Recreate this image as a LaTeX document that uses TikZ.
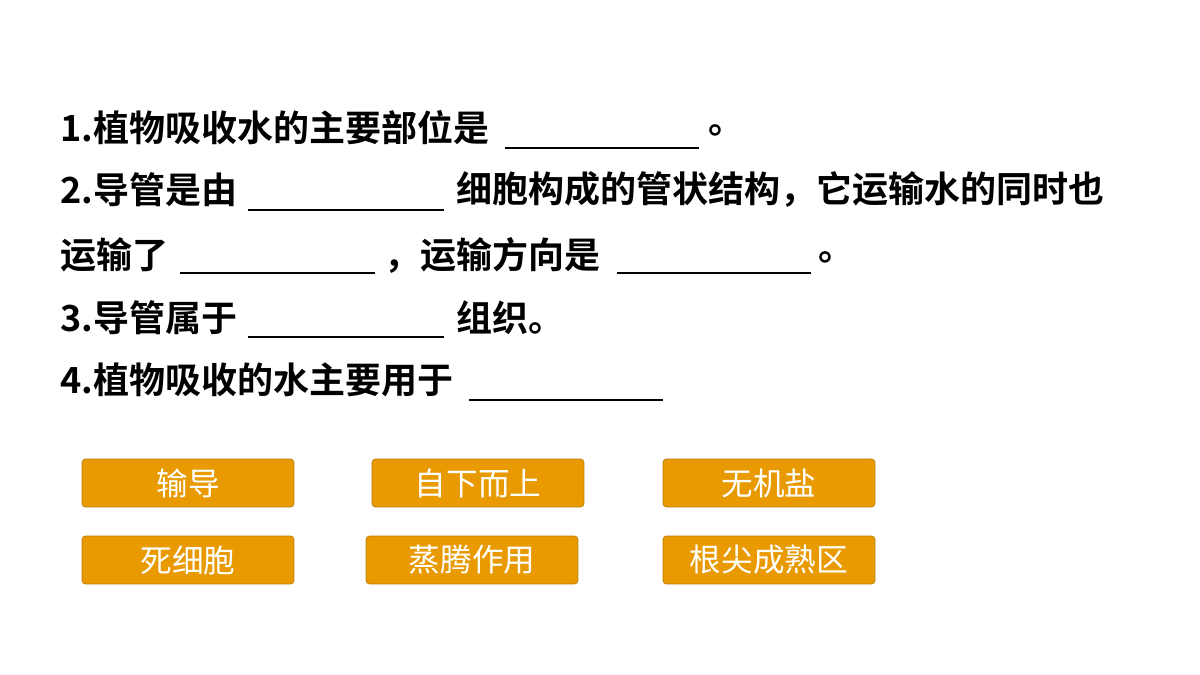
\documentclass[tikz,border=0pt]{standalone}
\usepackage{fontspec}
\newfontfamily\cjk{Noto Sans CJK SC}
\newfontfamily\cjkb{Noto Sans CJK SC Bold}
\usetikzlibrary{positioning}
\definecolor{boxorange}{HTML}{E89A00}
\tikzset{
  qtext/.style={anchor=west,inner sep=0pt,font=\cjkb\fontsize{20.5}{24}\selectfont},
  blank/.style={line width=1.6pt},
  choice/.style={fill=boxorange,draw=boxorange!80!black,rounded corners=2pt,minimum width=4.24cm,
    minimum height=0.96cm,text=white,font=\cjk\fontsize{18}{22}\selectfont}
}
\begin{document}
\begin{tikzpicture}[x=0.02cm,y=-0.02cm]
  \useasboundingbox (0,0) rectangle (1200,675);

  % questions
  \node[qtext] (q1) at (60,128) {1.植物吸收水的主要部位是};
  \node[qtext] (q1e) at (708,130) {。};
  \node[qtext] (q2a) at (60,190) {2.导管是由};
  \node[qtext] (q2b) at (456,190) {细胞构成的管状结构，它运输水的同时也};
  \node[qtext] (q3a) at (60,255) {运输了};
  \node[qtext] (q3b) at (384,255) {，运输方向是};
  \node[qtext] (q3e) at (818,257) {。};
  \node[qtext] (q4a) at (60,318) {3.导管属于};
  \node[qtext] (q4b) at (456,318) {组织。};
  \node[qtext] (q5) at (60,380) {4.植物吸收的水主要用于};

  % blanks
  \draw[blank] (505,148) -- (699,148);
  \draw[blank] (248,210) -- (444,210);
  \draw[blank] (180,273) -- (375,273);
  \draw[blank] (617,273) -- (811,273);
  \draw[blank] (248,337) -- (444,337);
  \draw[blank] (469,400) -- (663,400);

  % answer choices
  \node[choice] (c1) at (188,483) {输导};
  \node[choice] (c2) at (478,483) {自下而上};
  \node[choice] (c3) at (769,483) {无机盐};
  \node[choice] (c4) at (188,560) {死细胞};
  \node[choice] (c5) at (472,560) {蒸腾作用};
  \node[choice] (c6) at (769,560) {根尖成熟区};
\end{tikzpicture}
\end{document}
